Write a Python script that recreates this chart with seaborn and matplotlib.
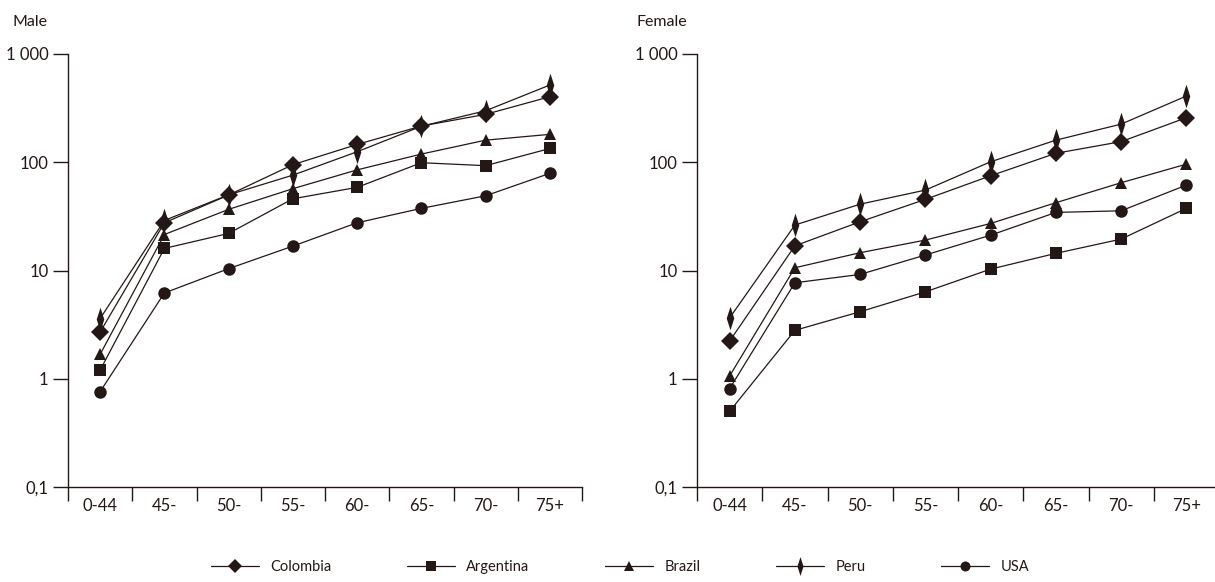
import matplotlib
matplotlib.use("Agg")
import matplotlib.pyplot as plt
from matplotlib.lines import Line2D
from matplotlib.path import Path
import seaborn as sns
import pandas as pd

age_groups = ["0-44", "45-", "50-", "55-", "60-", "65-", "70-", "75+"]
countries = ["Colombia", "Argentina", "Brazil", "Peru", "USA"]

# rates per 100 000
male_colombia = [2.7, 27.6, 49.8, 95, 146, 216, 277, 403]
male_argentina = [1.2, 16.0, 22.0, 46, 58.6, 99, 93, 134]
male_brazil = [1.68, 21.5, 36.7, 57, 85, 119, 160, 181]
male_peru = [3.6, 29.0, 50.0, 76, 125, 215, 299, 517]
male_usa = [0.76, 6.2, 10.4, 16.8, 27.6, 37.5, 49, 79]

female_colombia = [2.23, 16.9, 28.2, 45.4, 75, 121, 155, 258]
female_argentina = [0.50, 2.8, 4.16, 6.35, 10.3, 14.4, 19.5, 37.5]
female_brazil = [1.06, 10.6, 14.6, 19.1, 27.2, 42.3, 64.7, 96]
female_peru = [3.65, 26.3, 41, 55.3, 101, 160, 225, 409]
female_usa = [0.81, 7.7, 9.2, 13.9, 21.2, 34.4, 35.6, 61.5]

y_ticks = [0.1, 1, 10, 100, 1000]
y_labels = ["0,1", "1", "10", "100", "1 000"]

ink = "#231815"

sns.set_style("white")
plt.rcParams["font.family"] = ["Lato", "DejaVu Sans"]
plt.rcParams["font.size"] = 12


def make_frame(values):
    rows = []
    for country, vals in zip(countries, values):
        for i, v in enumerate(vals):
            rows.append({"age": i, "country": country, "rate": v})
    return pd.DataFrame(rows)


male = make_frame([male_colombia, male_argentina, male_brazil, male_peru, male_usa])
female = make_frame([female_colombia, female_argentina, female_brazil, female_peru, female_usa])

# tall thin diamond for Peru
peru_marker = Path([(0, 1), (0.32, 0), (0, -1), (-0.32, 0), (0, 1)],
                   [Path.MOVETO, Path.LINETO, Path.LINETO, Path.LINETO, Path.CLOSEPOLY])
markers = {"Colombia": "D", "Argentina": "s", "Brazil": "^", "Peru": peru_marker, "USA": "o"}
sizes = {"Colombia": 9, "Argentina": 9, "Brazil": 9, "Peru": 17, "USA": 9}

fig = plt.figure(figsize=(12.15, 5.82), dpi=100)
ax_m = fig.add_axes([68 / 1215, 1 - 487 / 582, 514 / 1215, 433 / 582])
ax_f = fig.add_axes([697 / 1215, 1 - 487 / 582, 522 / 1215, 433 / 582])

for ax, df in [(ax_m, male), (ax_f, female)]:
    for c in countries:
        sub = df[df["country"] == c]
        sns.lineplot(data=sub, x="age", y="rate", ax=ax, color=ink, marker=markers[c],
                     markersize=sizes[c], markeredgewidth=0, linewidth=0.9,
                     legend=False, clip_on=False)
    ax.set_yscale("log")
    ax.set_ylim(0.1, 1000)
    ax.set_xlim(-0.5, 7.5)
    ax.set_yticks(y_ticks)
    ax.set_yticklabels(y_labels)
    ax.yaxis.set_minor_locator(matplotlib.ticker.NullLocator())
    ax.set_xticks([i - 0.5 for i in range(9)])
    ax.set_xticklabels([])
    ax.set_xticks(range(8), minor=True)
    ax.set_xticklabels(age_groups, minor=True)
    ax.tick_params(axis="x", which="major", bottom=True, length=10, width=1, color=ink,
                   direction="out")
    ax.tick_params(axis="x", which="minor", bottom=True, length=0, pad=8, labelsize=12,
                   labelcolor=ink)
    ax.tick_params(axis="y", which="major", left=True, length=11, width=1, color=ink,
                   direction="out", pad=3, labelsize=12, labelcolor=ink)
    ax.set_xlabel("")
    ax.set_ylabel("")
    for s in ["top", "right"]:
        ax.spines[s].set_visible(False)
    for s in ["left", "bottom"]:
        ax.spines[s].set_color(ink)
        ax.spines[s].set_linewidth(1)

fig.text(12 / 1215, 1 - 22 / 582, "Male", fontsize=11.5, color=ink, va="center")
fig.text(636 / 1215, 1 - 22 / 582, "Female", fontsize=11.5, color=ink, va="center")

handles = [Line2D([], [], color=ink, linewidth=0.9, marker=markers[c],
                  markersize=sizes[c] * 0.8, markeredgewidth=0) for c in countries]
fig.legend(handles, countries, loc="center", bbox_to_anchor=(620 / 1215, 15 / 582),
           ncol=5, frameon=False, handlelength=3.3, columnspacing=5.2, handletextpad=0.75,
           fontsize=10.5, labelcolor=ink)

fig.savefig("out.png", dpi=100)
